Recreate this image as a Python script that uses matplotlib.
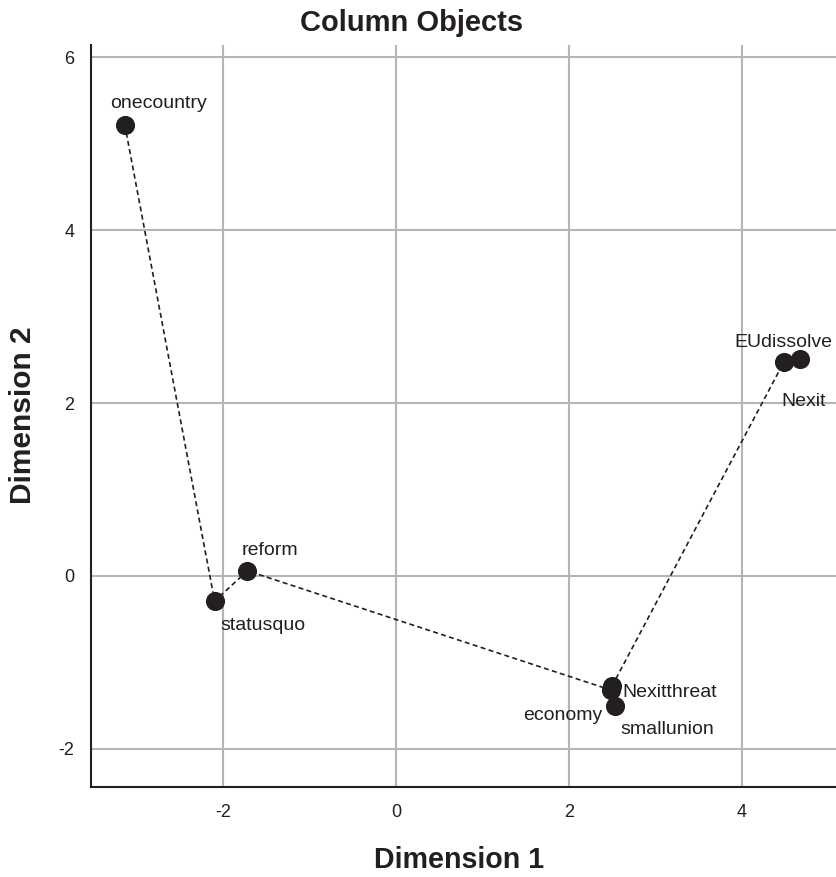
import matplotlib.pyplot as plt

plt.rcParams['font.family'] = ['Liberation Sans', 'DejaVu Sans']
plt.rcParams['axes.unicode_minus'] = False

# Column object coordinates
labels = ["onecountry", "statusquo", "reform", "economy", "Nexitthreat",
          "smallunion", "Nexit", "EUdissolve"]
dim1 = [-3.14, -2.10, -1.72, 2.49, 2.50, 2.53, 4.49, 4.67]
dim2 = [5.22, -0.29, 0.06, -1.32, -1.27, -1.50, 2.48, 2.51]

# order of the dashed connecting line
path = ["onecountry", "statusquo", "reform", "economy", "Nexitthreat", "Nexit", "EUdissolve"]

# label offsets in points (dx, dy, ha)
offsets = {
    "onecountry": (24, 15, "center"),
    "statusquo": (35, -17.5, "center"),
    "reform": (16.5, 14.5, "center"),
    "economy": (-35, -18, "center"),
    "Nexitthreat": (7, -5, "left"),
    "smallunion": (4, -17, "left"),
    "Nexit": (14, -29, "center"),
    "EUdissolve": (-11.5, 12, "center"),
}

ink = "#231f20"
fig = plt.figure(figsize=(8.36, 8.77), dpi=100)
ax = fig.add_axes([0.1089, 0.1026, 0.8911, 0.8461])

px = [dim1[labels.index(n)] for n in path]
py = [dim2[labels.index(n)] for n in path]
ax.plot(px, py, ls=(0, (3, 2)), color=ink, lw=1.2, zorder=2)
ax.scatter(dim1, dim2, s=190, color=ink, zorder=3, linewidths=0)

for name, x, y in zip(labels, dim1, dim2):
    dx, dy, ha = offsets[name]
    ax.annotate(name, (x, y), xytext=(dx, dy), textcoords="offset points",
                ha=ha, va="center", fontsize=14, color=ink, zorder=4)

ax.set_xlim(-3.53, 5.09)
ax.set_ylim(-2.44, 6.14)
ax.set_xticks([-2, 0, 2, 4])
ax.set_yticks([-2, 0, 2, 4, 6])
ax.grid(True, color="#b5b5b5", lw=1.5)
ax.set_axisbelow(True)
for s in ["top", "right"]:
    ax.spines[s].set_visible(False)
for s in ["left", "bottom"]:
    ax.spines[s].set_linewidth(1.5)
    ax.spines[s].set_color(ink)
ax.tick_params(length=0, labelsize=13, colors=ink, pad=12)

fig.text(0.492, 0.974, "Column Objects", ha="center", va="center",
         fontsize=21, fontweight="bold", color=ink)
fig.text(0.549, 0.019, "Dimension 1", ha="center", va="center",
         fontsize=20.6, fontweight="bold", color=ink)
fig.text(0.027, 0.527, "Dimension 2", ha="center", va="center", rotation=90,
         fontsize=21.5, fontweight="bold", color=ink)

plt.savefig("out.png", dpi=100)
